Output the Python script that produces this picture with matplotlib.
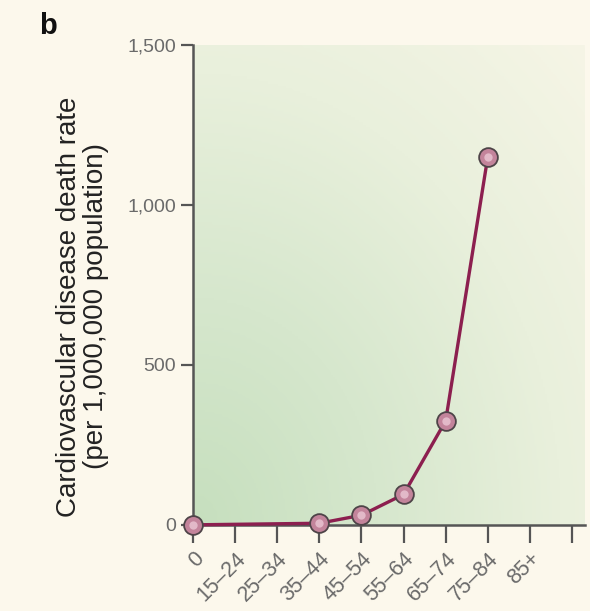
import numpy as np
import matplotlib.pyplot as plt
from matplotlib.colors import LinearSegmentedColormap

plt.rcParams['font.family'] = ['Liberation Sans', 'DejaVu Sans']

# age bands on the x axis
age_groups = ['0', '15–24', '25–34', '35–44', '45–54', '55–64', '65–74', '75–84', '85+']
# groups with a recorded rate and the rate itself (per 1,000,000)
point_groups = ['0', '35–44', '45–54', '55–64', '65–74', '75–84']
death_rate = [0, 5, 30, 95, 325, 1150]
y_ticks = [0, 500, 1000, 1500]
y_tick_labels = ['0', '500', '1,000', '1,500']

line_col = '#8c1f4f'
tick_col = '#6a6a6a'
spine_col = '#555555'

fig = plt.figure(figsize=(5.9, 6.11), dpi=100)
fig.patch.set_facecolor('#fcf8ec')
ax = fig.add_axes([0.327, 0.141, 0.664, 0.786])

# soft green wash fading towards the top right
yy, xx = np.mgrid[0:1:200j, 0:1:200j]
dist = np.sqrt(xx**2 + (1 - yy)**2) / np.sqrt(2)
cmap = LinearSegmentedColormap.from_list('wash', ['#c6dfbe', '#d6e7cd', '#e9f0dc', '#f6f5e6'])
ax.imshow(dist, cmap=cmap, extent=[0, 1, 0, 1], transform=ax.transAxes,
          aspect='auto', zorder=0, interpolation='bilinear')

xpos = [age_groups.index(g) for g in point_groups]
ax.plot(xpos, death_rate, color=line_col, lw=2.4, zorder=3, clip_on=False)
ax.plot(xpos, death_rate, ls='none', marker='o', ms=13.5, mfc='#c3849b',
        mec='#4e4448', mew=1.3, zorder=4, clip_on=False)
ax.plot(xpos, death_rate, ls='none', marker='o', ms=6, mfc='#e2b9c8',
        mec='none', zorder=5, clip_on=False)

ax.set_xlim(0, 9.3)
ax.set_ylim(0, 1500)
ax.set_xticks(range(10))
ax.set_xticklabels(age_groups + [''], rotation=45, ha='right', rotation_mode='anchor',
                   fontsize=15.5, color=tick_col)
ax.set_yticks(y_ticks)
ax.set_yticklabels(y_tick_labels, fontsize=14, color=tick_col)
ax.tick_params(axis='x', length=13, width=1.6, color=spine_col, pad=4, direction='out')
ax.tick_params(axis='y', length=9, width=1.6, color=spine_col, pad=3, direction='out')

for side in ['top', 'right']:
    ax.spines[side].set_visible(False)
for side in ['left', 'bottom']:
    ax.spines[side].set_color(spine_col)
    ax.spines[side].set_linewidth(1.8)

ax.set_ylabel('Cardiovascular disease death rate\n(per 1,000,000 population)',
              fontsize=20, color='#222222', linespacing=1.05)
ax.yaxis.set_label_coords(-0.215, 0.455)

fig.text(0.066, 0.945, 'b', fontsize=21, fontweight='bold', color='#111111')

fig.savefig('out.png', dpi=100, facecolor=fig.get_facecolor())
